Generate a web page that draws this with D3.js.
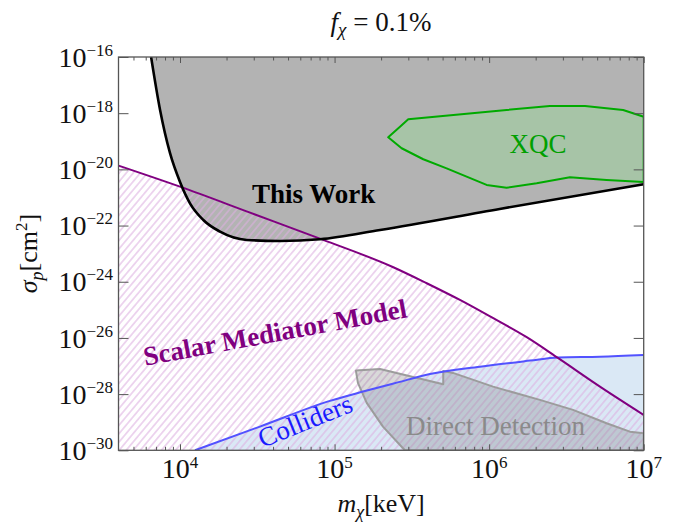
<!DOCTYPE html>
<html>
<head>
<meta charset="utf-8">
<script src="https://cdn.jsdelivr.net/npm/d3@7"></script>
<style>
body { margin: 0; background: #fff; }
text { font-family: "Liberation Serif", "DejaVu Serif", serif; }
</style>
</head>
<body>
<div id="chart"></div>
<script>
// masses in keV, cross sections in cm^2
const thisWorkMass  = [6.5e3, 7.43e3, 8.61e3, 1.0e4, 1.16e4, 1.415e4, 1.815e4, 2.7e4, 4.44e4, 8.05e4, 1.97e5, 1.17e6, 1.0e7];
const thisWorkSigma = [1e-16, 1.3e-18, 3.84e-20, 3.56e-21, 6.2e-22, 1.58e-22, 6.07e-23, 3.08e-23, 2.83e-23, 3.25e-23, 6.97e-23, 3.9e-22, 2.95e-21];

const scalarMass  = [4.0e3, 1.0e4, 2.84e4, 8.37e4, 2.399e5, 3.946e5, 6.475e5, 1.064e6, 1.75e6, 2.8e6, 5.21e6, 1.0e7];
const scalarSigma = [1.36e-20, 2.42e-21, 2.88e-22, 3.15e-23, 3.28e-24, 8.85e-25, 2.25e-25, 5.02e-26, 1.06e-26, 1.9e-27, 1.85e-28, 1.82e-29];

const colliderMass  = [1.25e4, 3.29e4, 9.33e4, 1.529e5, 2.524e5, 4.14e5, 8.71e5, 1.84e6, 2.79e6, 5.2e6, 1.0e7];
const colliderSigma = [1e-30, 6.97e-30, 5.73e-29, 1.23e-28, 2.56e-28, 5.2e-28, 9.5e-28, 1.56e-27, 2.02e-27, 2.16e-27, 2.48e-27];

const directMass  = [1.374e5, 1.968e5, 5.047e5, 5.047e5, 5.83e5, 1.06e6, 2.13e6, 3.49e6, 5.75e6, 8.14e6, 1.0e7, 1.0e7, 2.85e5, 2.056e5, 1.614e5, 1.416e5];
const directSigma = [6.86e-28, 7.89e-28, 2.25e-28, 6.7e-28, 5.68e-28, 1.85e-28, 6.22e-29, 2.74e-29, 9.2e-30, 4.6e-30, 4.06e-30, 1e-30, 1e-30, 6.97e-30, 4.86e-29, 2.51e-28];

const xqcMass  = [2.223e5, 2.65e5, 2.997e5, 1.297e6, 2.47e6, 4.17e6, 7.36e6, 1.0e7, 1.0e7, 5.75e6, 3.33e6, 2.03e6, 1.297e6, 9.63e5, 7.15e5, 5.31e5, 3.75e5, 2.716e5];
const xqcSigma = [1.39e-19, 3.31e-19, 6.07e-19, 1.3e-18, 1.8e-18, 1.8e-18, 1.3e-18, 7.5e-19, 3.56e-21, 4.2e-21, 5.24e-21, 3.2e-21, 2.23e-21, 2.79e-21, 5.5e-21, 1.09e-20, 2.29e-20, 5.64e-20];

// axis ticks
const xTicks = [1e4, 1e5, 1e6, 1e7];
const xTickExp = ["4", "5", "6", "7"];
const yTicks = [1e-30, 1e-28, 1e-26, 1e-24, 1e-22, 1e-20, 1e-18, 1e-16];
const yTickExp = ["\u221230", "\u221228", "\u221226", "\u221224", "\u221222", "\u221220", "\u221218", "\u221216"];

const zip = (a, b) => a.map((d, i) => [d, b[i]]);

const width = 676;
const height = 525;
const plotLeft = 118.5, plotRight = 643.7, plotTop = 57, plotBottom = 450.3;

const x = d3.scaleLog().domain([4e3, 1e7]).range([plotLeft, plotRight]);
const y = d3.scaleLog().domain([1e-30, 1e-16]).range([plotBottom, plotTop]);

const xMinor = [];
for (let dec = 1e3; dec < 1e7; dec *= 10) {
    for (let k = 2; k <= 9; k++) {
        const v = k * dec;
        if (v > 4e3 && v < 1e7) xMinor.push(v);
    }
}

const svg = d3.select("#chart")
    .append("svg")
    .attr("width", width)
    .attr("height", height);

const defs = svg.append("defs");
defs.append("clipPath").attr("id", "plot")
    .append("rect")
    .attr("x", plotLeft).attr("y", plotTop)
    .attr("width", plotRight - plotLeft).attr("height", plotBottom - plotTop);

const hatch = defs.append("pattern")
    .attr("id", "hatch")
    .attr("patternUnits", "userSpaceOnUse")
    .attr("width", 5.4)
    .attr("height", 5.4)
    .attr("patternTransform", "rotate(40)");
hatch.append("line")
    .attr("x1", 2.7).attr("y1", 0)
    .attr("x2", 2.7).attr("y2", 5.4)
    .attr("stroke", "#dcb0e0")
    .attr("stroke-width", 1);

const plot = svg.append("g").attr("clip-path", "url(#plot)");

const lineGen = d3.line()
    .x(d => x(d[0]))
    .y(d => y(d[1]))
    .curve(d3.curveMonotoneX);

const polyGen = d3.line()
    .x(d => x(d[0]))
    .y(d => y(d[1]));

// This Work excluded region (above curve)
plot.append("path")
    .attr("d", d3.area()
        .x(d => x(d[0]))
        .y0(plotTop)
        .y1(d => y(d[1]))
        .curve(d3.curveMonotoneX)(zip(thisWorkMass, thisWorkSigma)))
    .attr("fill", "#b3b3b3");

// Colliders region
plot.append("path")
    .attr("d", d3.area()
        .x(d => x(d[0]))
        .y0(plotBottom)
        .y1(d => y(d[1]))
        .curve(d3.curveMonotoneX)(zip(colliderMass, colliderSigma)))
    .attr("fill", "#dae8f5");

// Scalar mediator hatched region
plot.append("path")
    .attr("d", d3.area()
        .x(d => x(d[0]))
        .y0(plotBottom)
        .y1(d => y(d[1]))
        .curve(d3.curveMonotoneX)(zip(scalarMass, scalarSigma)))
    .attr("fill", "url(#hatch)");

// Direct detection
plot.append("path")
    .attr("d", polyGen(zip(directMass, directSigma)) + "Z")
    .attr("fill", "rgba(120,120,120,0.28)")
    .attr("stroke", "#9c9c9c")
    .attr("stroke-width", 2)
    .attr("stroke-linejoin", "round");

// XQC
plot.append("path")
    .attr("d", polyGen(zip(xqcMass, xqcSigma)) + "Z")
    .attr("fill", "#a7c4a7")
    .attr("stroke", "#00aa00")
    .attr("stroke-width", 2)
    .attr("stroke-linejoin", "round");

// curves
plot.append("path")
    .attr("d", lineGen(zip(colliderMass, colliderSigma)))
    .attr("fill", "none")
    .attr("stroke", "#5252ff")
    .attr("stroke-width", 2);

plot.append("path")
    .attr("d", lineGen(zip(scalarMass, scalarSigma)))
    .attr("fill", "none")
    .attr("stroke", "#800080")
    .attr("stroke-width", 2);

plot.append("path")
    .attr("d", lineGen(zip(thisWorkMass, thisWorkSigma)))
    .attr("fill", "none")
    .attr("stroke", "#000")
    .attr("stroke-width", 2.6);

// region labels
plot.append("text")
    .attr("x", x(7.31e4)).attr("y", y(6.37e-22))
    .attr("text-anchor", "middle")
    .attr("font-size", 27)
    .attr("font-weight", "bold")
    .attr("fill", "#000")
    .text("This Work");

plot.append("text")
    .attr("x", x(2.07e6)).attr("y", y(3.94e-20))
    .attr("text-anchor", "middle")
    .attr("font-size", 27)
    .attr("fill", "#00a000")
    .text("XQC");

plot.append("text")
    .attr("transform", `translate(${x(4.22e4)},${y(7.5e-27)}) rotate(-10.5)`)
    .attr("text-anchor", "middle")
    .attr("font-size", 27)
    .attr("font-weight", "bold")
    .attr("fill", "#800080")
    .text("Scalar Mediator Model");

plot.append("text")
    .attr("transform", `translate(${x(6.78e4)},${y(5.55e-30)}) rotate(-22)`)
    .attr("text-anchor", "middle")
    .attr("font-size", 27)
    .attr("fill", "#1a1aff")
    .text("Colliders");

plot.append("text")
    .attr("x", x(1.1e6)).attr("y", y(3.53e-30))
    .attr("text-anchor", "middle")
    .attr("font-size", 27)
    .attr("fill", "#8a8a8a")
    .text("Direct Detection");

// axes: ticks point inward
const axisColor = "#555";
function styleAxis(g) {
    g.select(".domain").remove();
    g.selectAll(".tick line").attr("stroke", axisColor).attr("stroke-width", 1);
}

svg.append("g").attr("transform", `translate(0,${plotBottom})`)
    .call(d3.axisBottom(x).tickValues(xMinor).tickSize(-3.5).tickFormat(""))
    .call(styleAxis);
svg.append("g").attr("transform", `translate(0,${plotBottom})`)
    .call(d3.axisBottom(x).tickValues(xTicks).tickSize(-6).tickFormat(""))
    .call(styleAxis);
svg.append("g").attr("transform", `translate(0,${plotTop})`)
    .call(d3.axisTop(x).tickValues(xMinor).tickSize(-3.5).tickFormat(""))
    .call(styleAxis);
svg.append("g").attr("transform", `translate(0,${plotTop})`)
    .call(d3.axisTop(x).tickValues(xTicks).tickSize(-6).tickFormat(""))
    .call(styleAxis);
svg.append("g").attr("transform", `translate(${plotLeft},0)`)
    .call(d3.axisLeft(y).tickValues(yTicks).tickSize(-10).tickFormat(""))
    .call(styleAxis);
svg.append("g").attr("transform", `translate(${plotRight},0)`)
    .call(d3.axisRight(y).tickValues(yTicks).tickSize(-10).tickFormat(""))
    .call(styleAxis);

svg.append("rect")
    .attr("x", plotLeft).attr("y", plotTop)
    .attr("width", plotRight - plotLeft).attr("height", plotBottom - plotTop)
    .attr("fill", "none")
    .attr("stroke", axisColor)
    .attr("stroke-width", 1.3);

// tick labels
const xLab = svg.selectAll(".xlab")
    .data(xTicks)
    .enter()
    .append("text")
    .attr("class", "xlab")
    .attr("x", d => x(d))
    .attr("y", 478)
    .attr("text-anchor", "middle")
    .attr("font-size", 28)
    .attr("fill", "#111");
xLab.append("tspan").text("10");
xLab.append("tspan").attr("dy", -10).attr("font-size", 17).text((d, i) => xTickExp[i]);

const yLab = svg.selectAll(".ylab")
    .data(yTicks)
    .enter()
    .append("text")
    .attr("class", "ylab")
    .attr("x", 113)
    .attr("y", d => y(d) + 9.7)
    .attr("text-anchor", "end")
    .attr("font-size", 28)
    .attr("fill", "#111");
yLab.append("tspan").text("10");
yLab.append("tspan").attr("dy", -11).attr("font-size", 17).text((d, i) => yTickExp[i]);

// title
const title = svg.append("text")
    .attr("x", 381).attr("y", 31)
    .attr("text-anchor", "middle")
    .attr("font-size", 27)
    .attr("fill", "#111");
title.append("tspan").attr("font-style", "italic").text("f");
title.append("tspan").attr("font-style", "italic").attr("font-size", 19).attr("dy", 5).text("\u03c7");
title.append("tspan").attr("dy", -5).text(" = 0.1%");

// x label
const xTitle = svg.append("text")
    .attr("x", (plotLeft + plotRight) / 2).attr("y", 512)
    .attr("text-anchor", "middle")
    .attr("font-size", 26)
    .attr("fill", "#111");
xTitle.append("tspan").attr("font-style", "italic").text("m");
xTitle.append("tspan").attr("font-style", "italic").attr("font-size", 18).attr("dy", 6).text("\u03c7");
xTitle.append("tspan").attr("dy", -6).text("[keV]");

// y label
const yTitle = svg.append("text")
    .attr("transform", `translate(37,${(plotTop + plotBottom) / 2}) rotate(-90)`)
    .attr("text-anchor", "middle")
    .attr("font-size", 26)
    .attr("fill", "#111");
yTitle.append("tspan").attr("font-style", "italic").text("\u03c3");
yTitle.append("tspan").attr("font-style", "italic").attr("font-size", 18).attr("dy", 6).text("p");
yTitle.append("tspan").attr("dy", -6).text("[cm");
yTitle.append("tspan").attr("dy", -10).attr("font-size", 17).text("2");
yTitle.append("tspan").attr("dy", 10).text("]");
</script>
</body>
</html>
